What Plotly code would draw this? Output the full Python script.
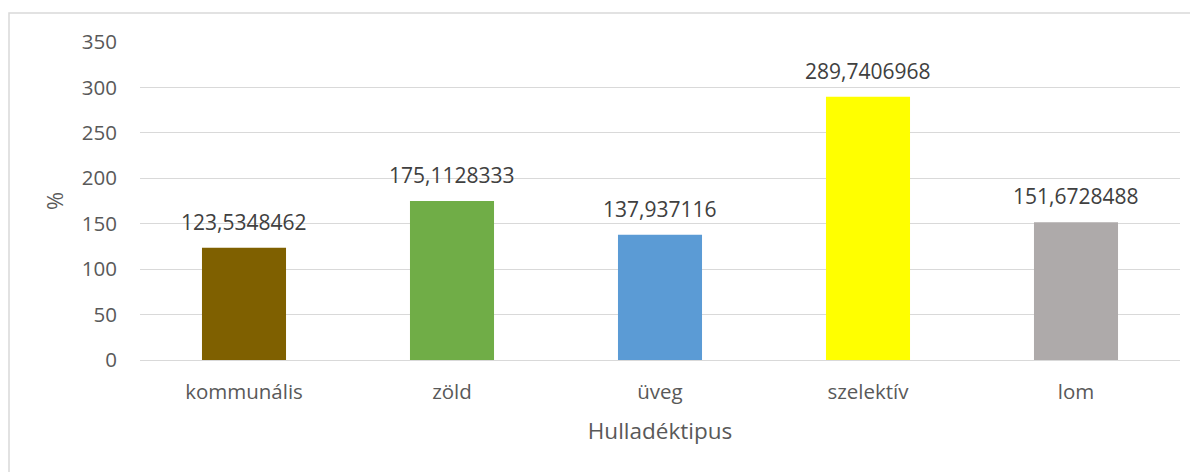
import plotly.graph_objects as go

categories = ["kommunális", "zöld", "üveg", "szelektív", "lom"]
values = [123.5348462, 175.1128333, 137.937116, 289.7406968, 151.6728488]
labels = ["123,5348462", "175,1128333", "137,937116", "289,7406968", "151,6728488"]
colors = ["#7F6000", "#70AD47", "#5B9BD5", "#FFFF00", "#AEAAAA"]
y_ticks = [0, 50, 100, 150, 200, 250, 300, 350]

FONT = "Open Sans"

fig = go.Figure(go.Bar(
    x=categories, y=values,
    marker=dict(color=colors, line=dict(width=0)),
    width=0.404, hoverinfo="x+y",
))

for c, v, t in zip(categories, values, labels):
    fig.add_annotation(
        x=c, y=v, text=t, showarrow=False, yanchor="bottom", yshift=10,
        font=dict(family=FONT, size=21, color="#404040"),
    )

W, H = 1198, 472
L, R, T, B = 132, 26, 34, 120
pw = W - L - R
ph = H - T - B

fig.update_layout(
    width=W, height=H,
    margin=dict(l=L, r=R, t=T, b=B),
    plot_bgcolor="white", paper_bgcolor="white",
    showlegend=False,
    font=dict(family=FONT, size=20, color="#595959"),
    xaxis=dict(
        title=dict(text="Hulladéktipus", font=dict(size=22.5, color="#595959"), standoff=19),
        showgrid=False, showline=False, ticks="", tickfont=dict(size=20.5),
        ticklabelstandoff=17,
    ),
    yaxis=dict(
        title=dict(text="%", font=dict(size=22, color="#595959"), standoff=12),
        range=[0, 350], tickvals=y_ticks, showgrid=True, gridcolor="#D9D9D9",
        gridwidth=1, zeroline=True, zerolinecolor="#D9D9D9", zerolinewidth=1,
        showline=False, ticks="", tickfont=dict(size=20.5), ticklabelstandoff=22,
    ),
    shapes=[dict(
        type="rect", xref="paper", yref="paper",
        x0=(1 - L) / pw, x1=(1300 - L) / pw,
        y0=-1, y1=1 + (T - 5) / ph,
        line=dict(color="#D9D9D9", width=1.5), layer="below",
    )],
)

fig.write_html("out.html")
